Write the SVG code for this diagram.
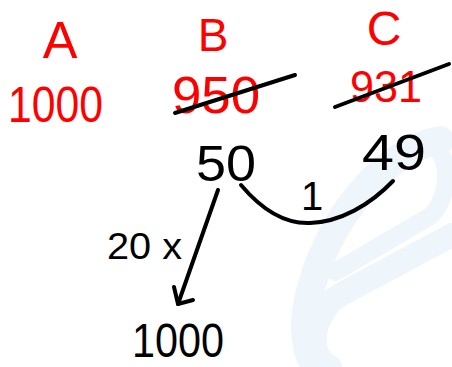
<svg xmlns="http://www.w3.org/2000/svg" width="452" height="367" viewBox="0 0 452 367">
<defs>
<style>
.red{fill:#ff0000;font-family:"Liberation Sans",Arial,sans-serif;}
.blk{fill:#000;font-family:"Liberation Sans",Arial,sans-serif;}
.ln{fill:none;stroke:#000;stroke-width:4;stroke-linecap:round;stroke-linejoin:round;}
</style>
</defs>
<rect width="452" height="367" fill="#fff"/>
<g id="watermark" fill="none" stroke="#eef5fb" stroke-linecap="round">
<path d="M452,235 L340,295 C312,312 305,355 330,367" stroke-width="24"/>
<path d="M440,140 C385,150 325,220 308,300 C300,340 310,362 318,367" stroke-width="28"/>
<path d="M425,140 C452,152 452,190 432,215 L335,272" stroke-width="18"/>
</g>
<g id="colA"><text class="red" x="60" y="58" font-size="52" text-anchor="middle">A</text>
<text class="red" x="8" y="122" font-size="50" textLength="95" lengthAdjust="spacingAndGlyphs">1000</text></g>
<g id="colB"><text class="red" x="213" y="51" font-size="46" text-anchor="middle">B</text>
<text class="red" x="172" y="113" font-size="52" textLength="88" lengthAdjust="spacingAndGlyphs">950</text></g>
<g id="colC"><text class="red" x="384" y="45" font-size="48" text-anchor="middle">C</text>
<text class="red" x="350" y="102" font-size="44" textLength="72" lengthAdjust="spacingAndGlyphs">931</text></g>
<g id="n50"><text class="blk" x="196" y="181" font-size="50" textLength="60" lengthAdjust="spacingAndGlyphs">50</text></g>
<g id="n49"><text class="blk" x="362" y="170" font-size="50" textLength="64" lengthAdjust="spacingAndGlyphs">49</text></g>
<g id="n1000"><text class="blk" x="132" y="357" font-size="48" textLength="92" lengthAdjust="spacingAndGlyphs">1000</text></g>
<g id="connectors">
<path class="ln" d="M175,113 L295,75"/>
<path class="ln" d="M335,107 L449,64"/>
<path class="ln" d="M241,185 C262,210 285,224 310,223 C340,222 370,205 393,181"/>
<path class="ln" d="M218,190 L178,304"/>
<path class="ln" d="M174,287 L178,304 L193,300"/>
<text class="blk" x="312" y="210" font-size="40" text-anchor="middle">1</text>
<text class="blk" x="107" y="259" font-size="36" textLength="75" lengthAdjust="spacingAndGlyphs">20 x</text>
</g>
</svg>
